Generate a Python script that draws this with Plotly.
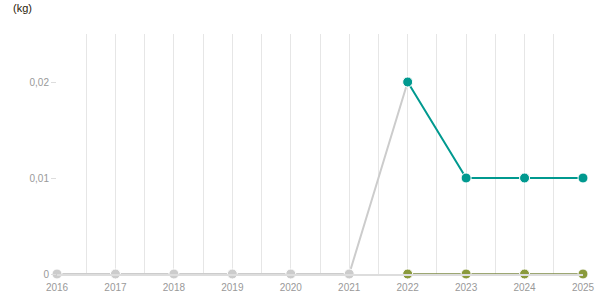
import plotly.graph_objects as go

years = [2016, 2017, 2018, 2019, 2020, 2021, 2022, 2023, 2024, 2025]
gray_years = [2016, 2017, 2018, 2019, 2020, 2021, 2022]
gray_values = [0, 0, 0, 0, 0, 0, 0.02]
teal_years = [2022, 2023, 2024, 2025]
teal_values = [0.02, 0.01, 0.01, 0.01]
olive_years = [2022, 2023, 2024, 2025]
olive_values = [0, 0, 0, 0]
y_tickvals = [0, 0.01, 0.02]
y_ticktext = ["0", "0,01", "0,02"]
x_ticktext = [str(y) for y in years]

fig = go.Figure()
fig.add_trace(go.Scatter(
    x=gray_years, y=gray_values, mode="lines+markers",
    line=dict(color="#cccccc", width=2),
    marker=dict(color="#cccccc", size=10, line=dict(color="white", width=1)),
    cliponaxis=False, showlegend=False))
fig.add_trace(go.Scatter(
    x=olive_years, y=olive_values, mode="lines+markers",
    line=dict(color="#7d8a45", width=1.5),
    marker=dict(color="#8a9a3c", size=10, line=dict(color="white", width=1)),
    cliponaxis=False, showlegend=False))
fig.add_trace(go.Scatter(
    x=teal_years, y=teal_values, mode="lines+markers",
    line=dict(color="#00998f", width=2),
    marker=dict(color="#00998f", size=10, line=dict(color="white", width=1)),
    cliponaxis=False, showlegend=False))

fig.update_layout(
    width=615, height=305,
    margin=dict(l=57, r=32, t=34, b=29),
    plot_bgcolor="white", paper_bgcolor="white",
    font=dict(family="Liberation Sans, Arial, sans-serif", size=10, color="#999999"),
    annotations=[dict(text="(kg)", xref="paper", yref="paper", x=-0.088, y=1.0,
                      yshift=26, xanchor="left", yanchor="middle", showarrow=False,
                      font=dict(size=11, color="#2a1a08"))],
)
fig.update_xaxes(
    range=[2016, 2025], tickvals=years, ticktext=x_ticktext,
    showgrid=True, gridcolor="#e6e6e6", gridwidth=1,
    minor=dict(dtick=0.5, tick0=2016, showgrid=True, gridcolor="#e6e6e6", gridwidth=1),
    zeroline=False, showline=True, linecolor="#dddddd", linewidth=2,
    ticks="", ticklabelstandoff=3,
    tickfont=dict(size=10, color="#999999"),
)
fig.update_yaxes(
    range=[0, 0.025], tickvals=y_tickvals, ticktext=y_ticktext,
    showgrid=False, zeroline=False, showline=False,
    ticks="outside", ticklen=5, tickcolor="#dddddd",
    tickfont=dict(size=10, color="#999999"),
)
fig.write_html("out.html")
